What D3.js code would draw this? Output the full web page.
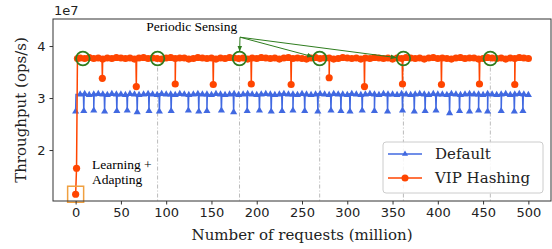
<!DOCTYPE html>
<html>
<head>
<meta charset="utf-8">
<script src="https://cdn.jsdelivr.net/npm/d3@7"></script>
<style>
  body { margin: 0; background: #fff; }
</style>
</head>
<body>
<svg id="chart" width="552" height="249"></svg>
<script>
// values in units of 1e7 ops/s, x in million requests
const xTicks = [0, 50, 100, 150, 200, 250, 300, 350, 400, 450, 500];
const yTicks = [2, 3, 4];

// VIP Hashing: warm-up points, then level samples every 5M, then sensing dips
const vipStart = [[0, 1.15], [1, 1.65], [2, 3.76]];
const vipLevel = [
  3.77,3.76,3.78,3.76,3.77,3.75,3.77,3.76,3.78,3.77,
  3.76,3.77,3.75,3.77,3.78,3.76,3.77,3.76,3.75,3.77,
  3.78,3.76,3.77,3.77,3.75,3.76,3.78,3.77,3.76,3.77,
  3.75,3.77,3.76,3.78,3.77,3.76,3.77,3.75,3.77,3.76,
  3.78,3.77,3.76,3.77,3.75,3.77,3.78,3.76,3.77,3.76,
  3.75,3.77,3.78,3.76,3.77,3.77,3.75,3.76,3.78,3.77,
  3.76,3.77,3.75,3.77,3.76,3.78,3.77,3.76,3.77,3.75,
  3.77,3.76,3.78,3.77,3.76,3.77,3.75,3.77,3.78,3.76,
  3.77,3.76,3.75,3.77,3.78,3.76,3.77,3.77,3.75,3.76,
  3.78,3.77,3.76,3.77,3.75,3.77,3.76,3.78,3.77,3.76
];
const vipDips = [
  [29.5, 3.38], [67, 3.22], [110, 3.27], [152, 3.26], [194, 3.27], [238, 3.26],
  [280, 3.39], [319, 3.22], [361, 3.27], [404, 3.26], [446, 3.27], [485, 3.26]
];

// Default: level samples every 5M plus periodic dips
const defLevel = [
  3.07,3.08,3.06,3.07,3.08,3.07,3.06,3.08,3.07,3.07,
  3.06,3.08,3.07,3.06,3.07,3.08,3.07,3.06,3.08,3.07,
  3.07,3.06,3.08,3.07,3.06,3.07,3.08,3.07,3.07,3.06,
  3.08,3.07,3.06,3.07,3.08,3.06,3.07,3.08,3.07,3.06,
  3.07,3.08,3.07,3.06,3.07,3.08,3.07,3.07,3.06,3.08,
  3.07,3.06,3.07,3.08,3.07,3.06,3.08,3.07,3.07,3.06,
  3.08,3.07,3.06,3.07,3.08,3.07,3.06,3.08,3.07,3.07,
  3.06,3.08,3.07,3.06,3.07,3.08,3.07,3.06,3.08,3.07,
  3.07,3.06,3.08,3.07,3.06,3.07,3.08,3.07,3.07,3.06,
  3.08,3.07,3.06,3.07,3.08,3.06,3.07,3.08,3.07,3.06
];
const defDips = [
  [0, 2.74], [9, 2.75], [20, 2.76], [32, 2.74], [45.5, 2.75], [57, 2.76], [68, 2.73],
  [81, 2.75], [92.5, 2.74], [105.5, 2.75], [124.5, 2.76], [136, 2.74], [145, 2.75],
  [161, 2.76], [174.5, 2.73], [189.5, 2.75], [203, 2.76], [216, 2.74], [228, 2.75],
  [240, 2.76], [253, 2.75], [267.5, 2.74], [282, 2.76], [293, 2.75], [303, 2.74],
  [316.5, 2.76], [330, 2.75], [344.5, 2.74], [361, 2.76], [374, 2.74], [386, 2.75],
  [398, 2.76], [413, 2.71], [424, 2.75], [435, 2.74], [445, 2.76], [455, 2.74],
  [470, 2.75], [484.5, 2.74], [494, 2.75]
];

const sensingAt = [8, 90.5, 181, 269.5, 362, 458];
const guideAt = [90.5, 181, 269.5, 362, 458];
const arrowTo = [181, 269.5, 362];

const width = 552, height = 249;
const margin = { top: 19, right: 1, bottom: 48, left: 53 };
const blue = "#4169e1", orange = "#ff4500", green = "#2f7d1f";

const svg = d3.select("#chart");

const x = d3.scaleLinear().domain([-25, 525]).range([margin.left, width - margin.right]);
const y = d3.scaleLinear().domain([1.02, 4.52]).range([height - margin.bottom, margin.top]);

function buildSeries(start, level, dips, x0) {
  const pts = start.map(d => ({ x: d[0], y: d[1], mark: true }));
  level.forEach((v, i) => pts.push({ x: x0 + i * 5, y: v, mark: true }));
  const levelAt = xv => level[Math.max(0, Math.min(level.length - 1, Math.round((xv - x0) / 5)))];
  dips.forEach(d => {
    const lvl = levelAt(d[0]);
    if (d[0] - 0.4 >= 0) pts.push({ x: d[0] - 0.4, y: lvl, mark: false });
    pts.push({ x: d[0], y: d[1], mark: true });
    pts.push({ x: d[0] + 0.4, y: lvl, mark: false });
  });
  return pts.sort((a, b) => a.x - b.x);
}

const vip = buildSeries(vipStart, vipLevel, vipDips, 5);
const def = buildSeries([], defLevel, defDips, 5);

// guide lines
svg.append("g").selectAll("line").data(guideAt).join("line")
  .attr("x1", d => x(d)).attr("x2", d => x(d))
  .attr("y1", y(3.76)).attr("y2", y.range()[0])
  .attr("stroke", "#aaa").attr("stroke-width", 0.8)
  .attr("stroke-dasharray", "4,2,1,2");

const line = d3.line().x(d => x(d.x)).y(d => y(d.y));

// Default series
svg.append("path").datum(def).attr("d", line)
  .attr("fill", "none").attr("stroke", blue).attr("stroke-width", 1.5);
svg.append("g").selectAll("path").data(def.filter(d => d.mark)).join("path")
  .attr("d", d3.symbol(d3.symbolTriangle, 22))
  .attr("transform", d => `translate(${x(d.x)},${y(d.y)})`)
  .attr("fill", blue);

// VIP Hashing series
svg.append("path").datum(vip).attr("d", line)
  .attr("fill", "none").attr("stroke", orange).attr("stroke-width", 1.5);
svg.append("g").selectAll("circle").data(vip.filter(d => d.mark)).join("circle")
  .attr("cx", d => x(d.x)).attr("cy", d => y(d.y)).attr("r", 3.6)
  .attr("fill", orange);

// sensing circles
svg.append("g").selectAll("circle").data(sensingAt).join("circle")
  .attr("cx", d => x(d)).attr("cy", y(3.76)).attr("r", 6.8)
  .attr("fill", "none").attr("stroke", green).attr("stroke-width", 1.8);

// arrows
svg.append("defs").append("marker")
  .attr("id", "arr").attr("viewBox", "0 0 10 10").attr("refX", 9).attr("refY", 5)
  .attr("markerWidth", 6).attr("markerHeight", 6).attr("orient", "auto")
  .append("path").attr("d", "M0,1 L10,5 L0,9 z").attr("fill", green);

const ax = x(181.5), ay = y(4.17);
svg.append("g").selectAll("line").data(arrowTo).join("line")
  .attr("x1", ax).attr("y1", ay)
  .attr("x2", d => {
    const dx = ax - x(d), dy = ay - y(3.76), l = Math.hypot(dx, dy);
    return x(d) + dx / l * 7.5;
  })
  .attr("y2", d => {
    const dx = ax - x(d), dy = ay - y(3.76), l = Math.hypot(dx, dy);
    return y(3.76) + dy / l * 7.5;
  })
  .attr("stroke", green).attr("stroke-width", 1)
  .attr("marker-end", "url(#arr)");

svg.append("text").attr("x", x(78)).attr("y", y(4.29))
  .attr("font-family", "Liberation Serif").attr("font-size", 13.5)
  .text("Periodic Sensing");

// learning box
svg.append("rect")
  .attr("x", x(0) - 8).attr("y", y(1.15) - 8).attr("width", 16).attr("height", 16)
  .attr("fill", "none").attr("stroke", "#f0a040").attr("stroke-width", 1.5);

const lt = svg.append("text").attr("font-family", "Liberation Serif").attr("font-size", 13.5);
lt.append("tspan").attr("x", x(18)).attr("y", y(1.63)).text("Learning +");
lt.append("tspan").attr("x", x(18)).attr("y", y(1.34)).text("Adapting");

// axes
const xAxis = svg.append("g")
  .attr("transform", `translate(0,${y.range()[0]})`)
  .call(d3.axisBottom(x).tickValues(xTicks).tickSize(3.5).tickPadding(3));
const yAxis = svg.append("g")
  .attr("transform", `translate(${margin.left},0)`)
  .call(d3.axisLeft(y).tickValues(yTicks).tickFormat(d3.format("d")).tickSize(3.5).tickPadding(4));
[xAxis, yAxis].forEach(g => {
  g.select(".domain").remove();
  g.selectAll("line").attr("stroke", "#333");
  g.selectAll("text").attr("font-family", "DejaVu Sans").attr("font-size", 13).attr("fill", "#222");
});

svg.append("rect")
  .attr("x", margin.left).attr("y", margin.top)
  .attr("width", width - margin.right - margin.left)
  .attr("height", y.range()[0] - margin.top)
  .attr("fill", "none").attr("stroke", "#333").attr("stroke-width", 1);

svg.append("text").attr("x", margin.left + 1).attr("y", 15)
  .attr("font-family", "DejaVu Sans").attr("font-size", 13).attr("fill", "#222").text("1e7");

svg.append("text")
  .attr("transform", `translate(21,${(margin.top + y.range()[0]) / 2}) rotate(-90)`)
  .attr("text-anchor", "middle").attr("dy", "0.35em")
  .attr("font-family", "DejaVu Serif").attr("font-size", 15).attr("fill", "#222")
  .text("Throughput (ops/s)");

svg.append("text")
  .attr("x", (margin.left + width - margin.right) / 2).attr("y", 240)
  .attr("text-anchor", "middle")
  .attr("font-family", "DejaVu Serif").attr("font-size", 15).attr("fill", "#222")
  .text("Number of requests (million)");

// legend
const leg = svg.append("g");
leg.append("rect").attr("x", 383).attr("y", 142).attr("width", 160).attr("height", 51)
  .attr("rx", 3).attr("fill", "#fff").attr("fill-opacity", 0.85)
  .attr("stroke", "#ccc");
const items = [
  { name: "Default", color: blue, sym: "tri" },
  { name: "VIP Hashing", color: orange, sym: "dot" }
];
items.forEach((it, i) => {
  const ly = 154 + i * 24;
  leg.append("line").attr("x1", 388).attr("x2", 422).attr("y1", ly).attr("y2", ly)
    .attr("stroke", it.color).attr("stroke-width", 1.5);
  if (it.sym === "tri") {
    leg.append("path").attr("d", d3.symbol(d3.symbolTriangle, 16))
      .attr("transform", `translate(405,${ly})`).attr("fill", it.color);
  } else {
    leg.append("circle").attr("cx", 405).attr("cy", ly).attr("r", 3.5).attr("fill", it.color);
  }
  leg.append("text").attr("x", 435).attr("y", ly).attr("dy", "0.35em")
    .attr("font-family", "DejaVu Serif").attr("font-size", 15).attr("fill", "#222")
    .text(it.name);
});
</script>
</body>
</html>
